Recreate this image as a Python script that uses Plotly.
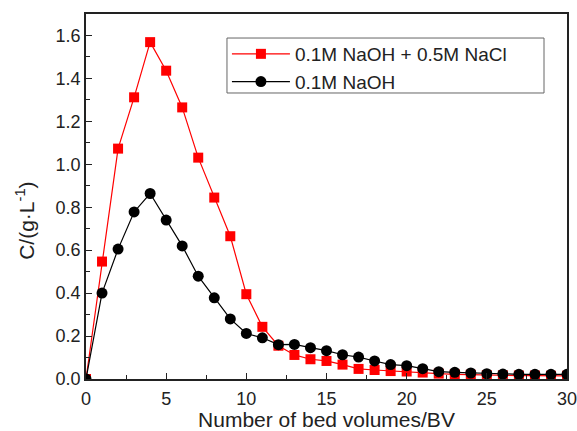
import plotly.graph_objects as go

bv = list(range(0, 31))
naoh_nacl = [0.0, 0.547, 1.073, 1.312, 1.569, 1.436, 1.265, 1.031, 0.845, 0.665,
             0.395, 0.243, 0.155, 0.112, 0.092, 0.084, 0.067, 0.047, 0.042, 0.037,
             0.035, 0.030, 0.025, 0.022, 0.020, 0.018, 0.017, 0.016, 0.016, 0.015, 0.015]
naoh = [0.0, 0.40, 0.605, 0.778, 0.864, 0.740, 0.620, 0.479, 0.378, 0.280,
        0.212, 0.192, 0.160, 0.161, 0.146, 0.132, 0.113, 0.102, 0.084, 0.067,
        0.062, 0.048, 0.034, 0.031, 0.028, 0.025, 0.023, 0.022, 0.022, 0.022, 0.022]
series_names = ["0.1M NaOH + 0.5M NaCl", "0.1M NaOH"]
x_title = "Number of bed volumes/BV"
y_title = "C/(g·L<sup>-1</sup>)"

FONT = "Liberation Sans, Arial, sans-serif"

fig = go.Figure()
fig.add_trace(go.Scatter(x=bv, y=naoh_nacl, name=series_names[0], mode="lines+markers",
                         line=dict(color="#ff0000", width=1.2),
                         marker=dict(symbol="square", size=10, color="#ff0000")))
fig.add_trace(go.Scatter(x=bv, y=naoh, name=series_names[1], mode="lines+markers",
                         line=dict(color="#000000", width=1.2),
                         marker=dict(symbol="circle", size=11, color="#000000")))

axis_common = dict(showgrid=False, zeroline=False, showline=True, mirror=True,
                   linecolor="#222222", linewidth=1.5, ticks="inside", ticklen=6,
                   tickwidth=1.2, tickcolor="#222222", automargin=False,
                   ticklabeloverflow="allow",
                   tickfont=dict(family=FONT, size=18, color="#222222"))

fig.update_xaxes(range=[0, 30], dtick=5, tick0=0, ticklabelstandoff=3,
                 minor=dict(ticks="inside", dtick=2.5, ticklen=4, tickcolor="#222222", tickwidth=1.2),
                 title=dict(text=x_title, font=dict(family=FONT, size=21, color="#222222"), standoff=2),
                 **axis_common)
fig.update_yaxes(range=[0, 1.7], dtick=0.2, tick0=0, tickformat=".1f",
                 minor=dict(ticks="inside", dtick=0.1, ticklen=4, tickcolor="#222222", tickwidth=1.2),
                 **axis_common)

fig.add_annotation(text=y_title, xref="paper", yref="paper", x=-0.127, y=0.433,
                   textangle=-90, showarrow=False, xanchor="center", yanchor="middle",
                   font=dict(family=FONT, size=21, color="#222222"))

# legend frame
fig.add_shape(type="rect", xref="paper", yref="paper", x0=0.2931, x1=0.9522,
              y0=0.7836, y1=0.9342, line=dict(color="#666666", width=1),
              fillcolor="rgba(0,0,0,0)")

fig.update_layout(width=577, height=431, margin=dict(l=86, r=10, t=14, b=52),
                  paper_bgcolor="white", plot_bgcolor="white",
                  legend=dict(x=0.293, y=0.9425, xanchor="left", yanchor="top",
                              borderwidth=0, bgcolor="rgba(0,0,0,0)",
                              font=dict(family=FONT, size=19, color="#222222"),
                              tracegroupgap=0, itemwidth=58),
                  showlegend=True)

fig.write_html("out.html")
